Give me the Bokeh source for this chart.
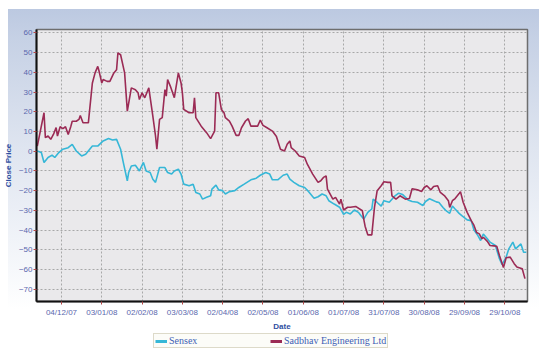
from bokeh.plotting import figure
from bokeh.models import Range1d, FixedTicker, Legend, LegendItem
from bokeh.layouts import column
from bokeh.embed import file_html
from bokeh.resources import INLINE

# x values are days counted from 04/12/07 (the first labelled tick)
start_date = "2007-12-04"
tick_days = [0, 30, 60, 90, 120, 150, 180, 210, 240, 270, 300, 330]
tick_labels = ["04/12/07", "03/01/08", "02/02/08", "03/03/08", "02/04/08", "02/05/08",
               "01/06/08", "01/07/08", "31/07/08", "30/08/08", "29/09/08", "29/10/08"]
y_ticks = [60, 50, 40, 30, 20, 10, 0, -10, -20, -30, -40, -50, -60, -70]
series_names = ["Sensex", "Sadbhav Engineering Ltd"]

sensex_day = [-18, -15, -13, -10, -7, -5, -2, 1, 5, 8,
              11, 15, 18, 23, 27, 31, 35, 38, 41, 44,
              46, 49, 50, 52, 55, 58, 61, 63, 66, 68,
              70, 73, 77, 79, 82, 84, 87, 89, 91, 95,
              98, 100, 103, 105, 108, 111, 112, 115, 117, 120,
              122, 125, 129, 132, 136, 141, 145, 148, 152, 155,
              157, 161, 165, 168, 170, 173, 177, 181, 184, 188,
              191, 194, 197, 199, 203, 207, 210, 212, 215, 218,
              221, 223, 225, 228, 231, 232, 235, 238, 240, 244,
              248, 251, 254, 258, 261, 265, 269, 271, 274, 276,
              279, 281, 284, 286, 289, 291, 293, 296, 298, 302,
              305, 307, 310, 312, 314, 317, 319, 323, 326, 328,
              331, 333, 336, 338, 342, 344, 346]
sensex_val = [0.1, -0.7, -5.7, -3.2, -2.0, -3.2, -0.7, 1.0, 1.8, 3.5,
              0.1, -2.4, -1.6, 2.6, 2.6, 5.2, 6.4, 5.7, 6.0, 1.0,
              -5.7, -15.0, -10.8, -7.5, -7.1, -10.0, -5.7, -10.0, -10.8, -14.2,
              -15.8, -8.3, -8.3, -10.8, -11.6, -10.0, -9.1, -11.6, -16.7, -17.5,
              -16.7, -20.9, -21.7, -24.3, -23.4, -22.6, -19.2, -17.2, -19.6, -20.0,
              -21.7, -20.5, -20.0, -18.4, -16.7, -14.5, -13.7, -12.2, -10.8, -11.6,
              -14.5, -14.5, -12.2, -11.6, -14.2, -15.8, -17.5, -18.4, -20.5, -23.9,
              -23.1, -21.7, -22.6, -25.1, -26.8, -28.4, -32.0, -31.0, -31.8, -29.8,
              -31.0, -32.7, -34.4, -31.0, -29.3, -24.3, -26.0, -27.8, -25.1, -25.9,
              -22.8, -21.3, -22.0, -24.7, -25.5, -25.9, -27.5, -25.5, -24.1, -24.7,
              -25.7, -26.0, -28.5, -30.0, -31.5, -27.8, -29.3, -31.5, -32.7, -34.8,
              -35.2, -39.8, -42.8, -45.3, -42.0, -44.4, -46.1, -47.8, -54.5, -57.5,
              -53.7, -49.5, -46.1, -49.5, -47.0, -51.2, -51.2]

sadbhav_day = [-18, -13, -12, -10, -8, -6, -4, -3, -1, 1,
               3, 5, 7, 8, 11, 13, 14, 16, 20, 21,
               23, 25, 27, 28, 30, 31, 34, 36, 39, 41,
               42, 44, 47, 49, 52, 55, 57, 58, 60, 62,
               65, 68, 70, 71, 73, 75, 77, 78, 79, 81,
               84, 87, 89, 90, 91, 95, 98, 99, 100, 104,
               108, 111, 114, 115, 117, 119, 121, 122, 125, 127,
               130, 132, 134, 137, 139, 141, 146, 148, 150, 153,
               157, 160, 163, 166, 168, 170, 171, 174, 177, 181,
               183, 187, 191, 193, 195, 197, 198, 202, 204, 207,
               208, 210, 213, 215, 219, 224, 225, 226, 228, 231,
               233, 235, 238, 240, 243, 245, 246, 249, 252, 256,
               259, 261, 265, 268, 270, 272, 275, 277, 280, 282,
               285, 288, 289, 291, 293, 296, 297, 299, 302, 305,
               307, 309, 311, 313, 314, 317, 319, 322, 324, 326,
               329, 331, 334, 337, 339, 343, 345]
sadbhav_val = [2.6, 19.5, 6.9, 7.7, 6.0, 8.5, 12.0, 7.7, 12.4, 11.4,
               12.4, 8.5, 12.7, 15.2, 15.2, 16.1, 18.1, 14.4, 14.4, 21.2,
               34.6, 39.7, 43.0, 40.5, 34.6, 36.3, 35.4, 35.4, 39.7, 41.3,
               49.8, 48.9, 39.7, 20.3, 32.1, 31.2, 29.6, 26.2, 29.6, 27.1,
               32.1, 17.8, 7.7, 1.0, 16.1, 17.0, 31.2, 27.9, 36.3, 33.0,
               27.1, 39.7, 34.6, 29.6, 21.2, 19.5, 19.5, 27.1, 17.0, 12.7,
               9.4, 6.4, 10.2, 29.6, 29.6, 21.2, 19.5, 17.0, 15.3, 12.7,
               8.0, 8.0, 11.9, 15.3, 16.5, 12.7, 12.7, 15.8, 13.1, 11.9,
               10.2, 7.5, 1.0, 0.1, 3.5, 5.2, 1.8, 0.1, -2.4, -3.2,
               -6.6, -11.6, -15.8, -15.0, -13.3, -12.5, -19.2, -24.3, -23.4, -26.8,
               -24.3, -29.8, -28.4, -28.4, -28.0, -30.2, -34.4, -38.0, -42.4, -42.4,
               -28.4, -20.0, -17.5, -15.5, -15.8, -15.8, -22.6, -24.3, -22.6, -24.3,
               -24.0, -19.0, -19.6, -20.4, -18.4, -17.5, -19.6, -17.9, -17.5, -20.9,
               -22.5, -25.1, -28.5, -25.1, -24.0, -21.5, -20.5, -25.9, -31.0, -35.2,
               -37.5, -41.2, -41.9, -44.4, -43.6, -45.7, -47.8, -48.0, -48.2, -52.9,
               -59.0, -54.0, -53.7, -57.0, -58.7, -59.6, -64.6]

label_blue = "#5a68ae"
title_blue = "#2f4f9f"
colors = ["#36b7d7", "#9b2b55"]

p = figure(width=539, height=333, output_backend="svg", toolbar_location=None,
           x_range=Range1d(-18.6, 346.9), y_range=Range1d(-76.2, 61.7),
           min_border_left=36, min_border_right=12, min_border_top=29, min_border_bottom=30,
           styles={"background": "linear-gradient(to bottom, #bcc9e1 0px, #c6d1e5 30px, "
                                 "#dfe5f0 140px, #f6f8fb 260px, #ffffff 300px) "
                                 "8px 9px / 531px 305px no-repeat, #ffffff"})
p.border_fill_alpha = 0
p.background_fill_color = "#eae9eb"
p.outline_line_color = "#6e6e6e"
p.outline_line_width = 1.5

p.line(sensex_day, sensex_val, line_color=colors[0], line_width=1.6)
p.line(sadbhav_day, sadbhav_val, line_color=colors[1], line_width=1.6)

p.xaxis.ticker = FixedTicker(ticks=tick_days)
p.xaxis.major_label_overrides = {d: s for d, s in zip(tick_days, tick_labels)}
p.yaxis.ticker = FixedTicker(ticks=y_ticks)

for ax in (p.xaxis[0], p.yaxis[0]):
    ax.axis_line_color = "#111111"
    ax.axis_line_width = 2
    ax.major_tick_line_color = "#b04848"
    ax.major_tick_out = 3
    ax.major_tick_in = 0
    ax.minor_tick_line_color = None
    ax.major_label_text_font = "Liberation Sans"
    ax.major_label_text_font_size = "8px"
    ax.major_label_text_color = label_blue
    ax.axis_label_text_font = "Liberation Sans"
    ax.axis_label_text_font_size = "8px"
    ax.axis_label_text_font_style = "bold"
    ax.axis_label_text_color = title_blue

p.xaxis.axis_label = "Date"
p.xaxis.major_label_standoff = 3
p.xaxis.axis_label_standoff = 2
p.yaxis.axis_label = "Close Price"
p.yaxis.major_label_standoff = 1
p.yaxis.axis_label_standoff = 3

p.xgrid.ticker = FixedTicker(ticks=tick_days)
p.ygrid.ticker = FixedTicker(ticks=y_ticks)
for g in (p.xgrid[0], p.ygrid[0]):
    g.grid_line_color = "#a8a8a8"
    g.grid_line_dash = "2 2"
    g.grid_line_width = 1

# legend strip below the chart (same series, drawn outside its visible range)
pl = figure(width=539, height=15, output_backend="svg", toolbar_location=None,
            x_range=Range1d(-18.6, 346.9), y_range=Range1d(1000, 1001),
            x_axis_type=None, y_axis_type=None,
            min_border_left=0, min_border_right=0, min_border_top=0, min_border_bottom=0)
pl.grid.visible = False
pl.outline_line_color = None
pl.background_fill_color = "#ffffff"
pl.border_fill_color = "#ffffff"
items = []
for name, c, xs, ys in zip(series_names, colors, [sensex_day, sadbhav_day],
                           [sensex_val, sadbhav_val]):
    r = pl.line(xs, ys, line_color=c, line_width=3)
    items.append(LegendItem(label=name, renderers=[r]))
lg = Legend(items=items, orientation="horizontal", location=(117, 0))
lg.label_text_font = "Liberation Serif"
lg.label_text_font_size = "10px"
lg.label_text_color = "#3f5fb5"
lg.glyph_width = 12
lg.glyph_height = 8
lg.label_standoff = 2
lg.label_width = 99
lg.label_height = 9
lg.spacing = 2
lg.padding = 1
lg.margin = 0
lg.border_line_color = "#bdb89a"
lg.border_line_width = 1.5
lg.background_fill_color = "#fcfcf8"
lg.background_fill_alpha = 1
pl.add_layout(lg, "center")

layout = column(p, pl, spacing=0)
open("out.html", "w").write(file_html(layout, INLINE))
